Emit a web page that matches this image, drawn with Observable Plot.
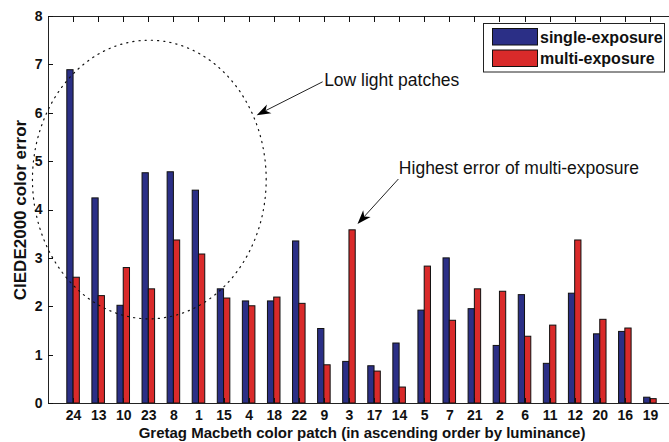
<!DOCTYPE html>
<html>
<head>
<meta charset="utf-8">
<script src="https://cdn.jsdelivr.net/npm/d3@7"></script>
<script src="https://cdn.jsdelivr.net/npm/@observablehq/plot@0.6"></script>
<style>
  html, body { margin: 0; padding: 0; background: #fff; overflow: hidden; width: 669px; height: 442px; }
  #chart { width: 669px; height: 442px; overflow: hidden; }
  #chart svg { max-width: none !important; }
</style>
</head>
<body>
<div id="chart"></div>
<script>
// Gretag Macbeth patches, ordered by ascending luminance
const categories = ["24","13","10","23","8","1","15","4","18","22","9","3","17","14","5","7","21","2","6","11","12","20","16","19"];
// CIEDE2000 colour error per patch
const singleExposure = [6.89,4.24,2.02,4.76,4.78,4.40,2.36,2.11,2.11,3.35,1.54,0.86,0.77,1.24,1.92,3.00,1.95,1.19,2.24,0.82,2.27,1.43,1.48,0.12];
const multiExposure  = [2.60,2.22,2.80,2.36,3.37,3.08,2.17,2.01,2.19,2.06,0.79,3.58,0.66,0.33,2.83,1.71,2.36,2.31,1.38,1.61,3.37,1.73,1.55,0.09];
const seriesNames = ["single-exposure", "multi-exposure"];
const seriesColors = ["#2b2f86", "#d92a2a"];
const yTicks = [0,1,2,3,4,5,6,7,8];

const rows = categories.flatMap((patch, i) => [
  {patch, pos: i + 1, series: seriesNames[0], value: singleExposure[i]},
  {patch, pos: i + 1, series: seriesNames[1], value: multiExposure[i]}
]);

// each bar takes a quarter of a category slot, the pair sits centred on the tick
const barSpan = 0.25;
const x1Of = d => d.series === seriesNames[0] ? d.pos - barSpan : d.pos;
const x2Of = d => d.series === seriesNames[0] ? d.pos : d.pos + barSpan;

// dotted ellipse around the low light patches
const ellipse = {cx: 4.02, cy: 4.63, rx: 4.66, ry: 2.88};
const ellipsePts = d3.range(0, 241).map(k => {
  const t = (k / 240) * 2 * Math.PI;
  return {x: ellipse.cx + ellipse.rx * Math.cos(t), y: ellipse.cy + ellipse.ry * Math.sin(t)};
});

const notes = [
  {text: "Low light patches", x: 10.99, y: 6.68, from: [10.95, 6.64], to: [8.32, 5.95]},
  {text: "Highest error of multi-exposure", x: 13.97, y: 4.86, from: [13.97, 4.63], to: [12.34, 3.70]}
];

// inward tick marks on left, bottom and top edges
function innerTicks(index, scales, values, dims) {
  const {x, y} = scales;
  const g = d3.create("svg:g").attr("stroke", "#111").attr("stroke-width", 1);
  const left = dims.marginLeft, top = dims.marginTop, bottom = dims.height - dims.marginBottom;
  for (const t of yTicks) {
    const py = Math.round(y(t)) + 0.5;
    g.append("line").attr("x1", left).attr("x2", left + 5).attr("y1", py).attr("y2", py);
  }
  categories.forEach((c, i) => {
    const px = Math.round(x(i + 1)) + 0.5;
    g.append("line").attr("x1", px).attr("x2", px).attr("y1", bottom).attr("y2", bottom - 5);
    g.append("line").attr("x1", px).attr("x2", px).attr("y1", top).attr("y2", top + 6);
  });
  return g.node();
}

// arrows with filled heads
function arrows(index, scales) {
  const {x, y} = scales;
  const g = d3.create("svg:g");
  for (const n of notes) {
    const x0 = x(n.from[0]), y0 = y(n.from[1]), x1 = x(n.to[0]), y1 = y(n.to[1]);
    const ang = Math.atan2(y1 - y0, x1 - x0);
    const L = 14, W = 5, notch = 4;
    const bx = x1 - L * Math.cos(ang), by = y1 - L * Math.sin(ang);
    const nx = x1 - (L - notch) * Math.cos(ang), ny = y1 - (L - notch) * Math.sin(ang);
    const px = -Math.sin(ang) * W, py = Math.cos(ang) * W;
    g.append("line").attr("x1", x0).attr("y1", y0).attr("x2", nx).attr("y2", ny)
      .attr("stroke", "#222").attr("stroke-width", 1);
    g.append("path")
      .attr("d", `M${x1},${y1}L${bx + px},${by + py}L${nx},${ny}L${bx - px},${by - py}Z`)
      .attr("fill", "#000");
  }
  return g.node();
}

// legend box in the upper right corner of the axes
function legend(index, scales, values, dims) {
  const g = d3.create("svg:g");
  const bx = 483, by = 23.5, bw = 181, bh = 48.5;
  g.append("rect").attr("x", bx + 0.5).attr("y", by).attr("width", bw).attr("height", bh)
    .attr("fill", "#fff").attr("stroke", "#222").attr("stroke-width", 1);
  seriesNames.forEach((name, i) => {
    const ry = by + 5 + i * 21.5;
    g.append("rect").attr("x", bx + 9.5).attr("y", ry).attr("width", 45).attr("height", 16.5)
      .attr("fill", seriesColors[i]).attr("stroke", "#111").attr("stroke-width", 1);
    g.append("text").attr("x", bx + 57).attr("y", ry + 8.5).attr("dy", "0.35em")
      .attr("text-anchor", "start")
      .attr("font-size", 16).attr("font-weight", "bold").attr("fill", "#111").text(name);
  });
  return g.node();
}

const chart = Plot.plot({
  width: 676,
  height: 442,
  marginLeft: 48,
  marginRight: 1,
  marginTop: 16,
  marginBottom: 39,
  style: {fontFamily: "'Liberation Sans', Arial, sans-serif", fontSize: "14px", fontWeight: "bold", color: "#111", background: "#fff", maxWidth: "none"},
  x: {domain: [0, 25], ticks: d3.range(1, categories.length + 1), tickFormat: p => categories[p - 1], tickSize: 0, tickPadding: 7, label: null},
  y: {domain: [0, 8], ticks: yTicks, tickSize: 0, tickPadding: 6, label: null},
  color: {domain: seriesNames, range: seriesColors},
  marks: [
    Plot.rect(rows, {x1: x1Of, x2: x2Of, y1: 0, y2: "value", fill: "series", stroke: "#111", strokeWidth: 1}),
    Plot.frame({stroke: "#222", strokeWidth: 1}),
    innerTicks,
    Plot.line(ellipsePts, {x: "x", y: "y", stroke: "#111", strokeWidth: 1.2, strokeDasharray: "1.2,5", clip: false}),
    Plot.text(notes, {x: "x", y: "y", text: "text", textAnchor: "start", fontSize: 17.5, fontWeight: "normal", fill: "#111"}),
    arrows,
    legend,
    Plot.text(["Gretag Macbeth color patch (in ascending order by luminance)"], {frameAnchor: "bottom", lineAnchor: "middle", dy: 30, fontSize: 15, fontWeight: "bold", fill: "#111"}),
    Plot.text(["CIEDE2000 color error"], {frameAnchor: "left", textAnchor: "middle", lineAnchor: "middle", dx: -28, rotate: -90, fontSize: 17, fontWeight: "bold", fill: "#111"})
  ]
});

document.getElementById("chart").appendChild(chart);
</script>
</body>
</html>
